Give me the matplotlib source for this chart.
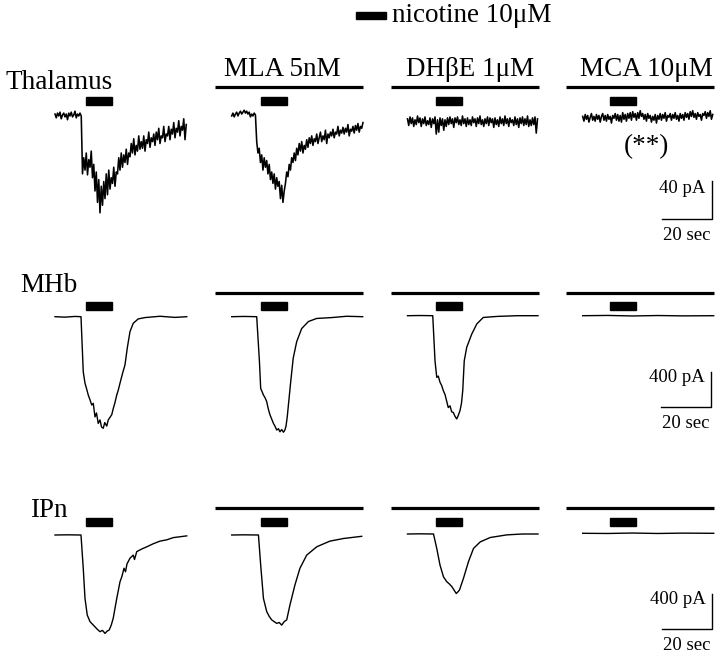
import matplotlib.pyplot as plt
import matplotlib.transforms as mtransforms
from matplotlib.patches import Rectangle
import numpy as np

plt.rcParams['font.family'] = ['Liberation Serif', 'DejaVu Serif']

# --- dados ---
regions = ['Thalamus', 'MHb', 'IPn']
drugs = ['', 'MLA 5nM', 'DHβE 1μM', 'MCA 10μM']
legend_label = 'nicotine 10μM'
note_mca = '(**)'
scale_sec = 20
scale_pA = [40, 400, 400]
nic_start = [12.3, 11.7, 11.3, 10.9]   # s, por coluna
nic_dur = 10.6
drug_span = (-6.6, 52.6)

# Thalamus: correntes (pA) amostradas a cada 0.5 s
dt_thal = 0.5
thal_ctrl = [1, -3, 2, -1, 3, -4, 0, 2, -2, 1,
             -5, 2, -1, 3, -2, 0, 4, -3, 1, -1,
             2, -1, -62, -45, -58, -40, -63, -47, -55, -38,
             -66, -52, -80, -60, -92, -68, -103, -75, -95, -70,
             -88, -62, -84, -58, -78, -66, -72, -55, -75, -60,
             -62, -45, -58, -40, -55, -42, -50, -36, -52, -40,
             -44, -30, -40, -25, -42, -32, -38, -22, -36, -28,
             -35, -22, -38, -26, -30, -18, -34, -24, -28, -20,
             -32, -18, -26, -14, -30, -22, -24, -12, -28, -20,
             -22, -12, -26, -15, -20, -8, -24, -14, -18, -6,
             -22, -12, -16, -4, -26, -10]
thal_mla = [-1, 2, -2, 1, 3, -1, 2, 4, 1, 3,
            5, 2, 4, 1, 3, -2, 1, -1, 2, 0,
            -28, -40, -35, -50, -42, -58, -45, -55, -48, -62,
            -52, -68, -60, -72, -62, -78, -66, -75, -70, -88,
            -74, -92, -80, -72, -60, -65, -52, -58, -45, -50,
            -40, -48, -35, -42, -30, -38, -28, -40, -32, -36,
            -26, -34, -24, -30, -22, -32, -25, -28, -20, -30,
            -24, -18, -28, -22, -26, -16, -30, -20, -24, -18,
            -22, -15, -24, -18, -20, -12, -22, -16, -19, -13,
            -20, -14, -18, -10, -22, -15, -17, -12, -19, -11,
            -16, -9, -18, -12, -14, -8]
thal_dhbe = [3, -4, 5, -2, 4, -5, 2, -3, 6, -1,
             4, -5, 3, -2, 5, -4, 1, -3, 4, -6,
             3, -2, 5, -13, 2, -11, 4, -4, 3, -9,
             2, -5, 4, -3, 5, -2, 3, -6, 4, -1,
             5, -3, 2, -4, 6, -2, 3, -5, 4, -3,
             2, -4, 5, -1, 3, -5, 4, -2, 6, -3,
             2, -5, 3, -2, 5, -4, 4, -1, 3, -6,
             4, -3, 2, -5, 5, -2, 3, -4, 6, -2,
             3, -5, 4, -1, 2, -4, 5, -3, 3, -6,
             4, -2, 5, -4, 3, -3, 6, -5, 2, -4,
             4, -3, 5, -12, 3]
thal_mca = [2, -3, 4, -1, 3, -4, 1, 5, -2, 2,
            -3, 4, -1, 3, -4, 2, 5, -2, 3, -3,
            4, -1, 2, -5, 3, 0, 5, -2, 4, -3,
            3, -4, 6, -1, 4, -3, 5, 0, 6, -2,
            7, 1, 5, -2, 6, 0, 8, 2, 5, -1,
            4, -3, 5, 0, 3, -4, 2, -2, 4, -5,
            3, -1, 5, -2, 4, 0, 6, -3, 3, 1,
            5, -2, 4, 0, 6, -1, 3, -3, 5, 0,
            4, -2, 6, 1, 5, -1, 7, 2, 8, 1,
            5, -1, 6, 2, 4, -2, 5, 3, 7, 0,
            6, 2, 8, -1, 4]

# MHb: pontos (s, pA)
mhb_ctrl_t = [0, 4, 8, 10.4, 11.3, 12.0, 12.6, 13.3, 14.0, 14.7, 15.3, 16.0, 16.6, 17.3,
              18.0, 18.6, 19.3, 19.9, 20.7, 21.3, 22.0, 22.7, 23.3, 24.0, 24.7, 25.3, 26.0,
              27.0, 28.0, 28.9, 30.0, 31.3, 33.3, 36, 42, 48, 52.7]
mhb_ctrl = [0, -5, 3, 0, -630, -760, -820, -895, -950, -1010, -990, -1145, -1100, -1220,
            -1180, -1260, -1275, -1210, -1250, -1180, -1150, -1120, -1050, -980, -895, -840, -760,
            -650, -550, -360, -170, -75, -25, -10, 5, -8, 0]
mhb_mla_t = [0, 5, 10.0, 11.1, 11.6, 12.2, 12.7, 13.4, 14.0, 14.6, 15.3, 16.0, 16.7, 17.3,
             18.0, 18.7, 19.3, 20.0, 20.7, 21.2, 21.7, 22.2, 22.7, 23.6, 24.6, 26.0, 28.0,
             30.7, 34.0, 40, 46, 52.4]
mhb_mla = [0, 3, 0, -515, -820, -860, -895, -930, -970, -1050, -1120, -1170, -1220, -1250,
           -1295, -1280, -1315, -1290, -1320, -1300, -1255, -1150, -1005, -745, -475, -285, -135,
           -55, -20, -10, 5, 0]
mhb_dhbe_t = [0, 5, 10.1, 11.0, 11.7, 12.3, 13.0, 13.7, 14.3, 15.0, 15.7, 16.3, 17.0, 17.7,
              18.3, 19.0, 19.7, 20.3, 21.0, 21.6, 22.1, 22.7, 23.7, 25.7, 27.7, 30.3, 36, 44, 52.2]
mhb_dhbe = [0, 2, 0, -515, -705, -690, -760, -800, -855, -900, -980, -1050, -1030, -1100,
            -1105, -1150, -1180, -1140, -1085, -1000, -855, -515, -360, -210, -95, -20, -8, 0, 0]
mhb_mca_t = [0, 10, 20, 30, 40, 52.4]
mhb_mca = [0, 3, -3, 2, -2, 0]

# IPn: pontos (s, pA)
ipn_ctrl_t = [0, 5, 10.4, 11.3, 12.0, 12.9, 14.0, 15.0, 16.0, 17.0, 18.0, 19.0, 20.0, 20.8,
              21.7, 22.5, 23.3, 24.7, 26.0, 26.8, 27.6, 28.2, 28.8, 30.0, 31.3, 31.8, 32.7,
              34.7, 36.7, 39.3, 42.0, 44.7, 47.3, 50.0, 52.7]
ipn_ctrl = [0, 2, 0, -380, -725, -915, -990, -1020, -1050, -1080, -1105, -1090, -1125, -1100,
            -1085, -1030, -950, -725, -535, -470, -380, -420, -330, -265, -230, -280, -190,
            -160, -135, -100, -70, -55, -30, -20, -10]
ipn_mla_t = [0, 5, 10.7, 11.6, 12.7, 14.0, 15.0, 16.0, 17.0, 18.0, 19.0, 20.0, 21.0, 22.0,
             23.3, 25.3, 27.3, 30.0, 34.0, 36, 39.3, 44.7, 52.0]
ipn_mla = [0, 2, 0, -345, -725, -875, -930, -970, -990, -1010, -1000, -1030, -990, -970,
           -800, -570, -380, -230, -135, -110, -70, -40, -15]
ipn_dhbe_t = [0, 5, 10.4, 11.7, 13.0, 14.4, 15.7, 16.7, 17.7, 18.6, 19.5, 20.2, 20.8, 22.4,
              24.4, 26.4, 29.1, 33.1, 39.7, 46, 52.2]
ipn_dhbe = [0, 2, 0, -165, -355, -490, -545, -570, -600, -640, -680, -660, -640, -505,
            -315, -165, -90, -40, -10, 0, 0]
ipn_mca_t = [0, 10, 20, 30, 40, 52.4]
ipn_mca = [0, -2, 3, -2, 2, 0]

thal_traces = [thal_ctrl, thal_mla, thal_dhbe, thal_mca]
traces = [
    [(np.arange(len(v)) * dt_thal, v) for v in thal_traces],
    [(mhb_ctrl_t, mhb_ctrl), (mhb_mla_t, mhb_mla), (mhb_dhbe_t, mhb_dhbe), (mhb_mca_t, mhb_mca)],
    [(ipn_ctrl_t, ipn_ctrl), (ipn_mla_t, ipn_mla), (ipn_dhbe_t, ipn_dhbe), (ipn_mca_t, ipn_mca)],
]

# --- layout (pixels) ---
W, H = 720, 653
px_per_s = 2.5
pA_per_px = [40 / 38, 400 / 35, 400 / 35]
trace_lw = [1.15, 1.0, 1.0]
col_x0 = [55, 231.7, 407.5, 582.7]
row_base = [[115, 115, 121.7, 118.3], [316.7, 316.7, 315.7, 315.7], [535, 535, 534, 533.3]]
drug_line_y = [87, 292.5, 507.5]
nic_bar_y = [100.5, 306, 521.5]
scale_corner = [(711.5, 218.5), (711, 407), (712, 629)]
label_pos = [(5, 89), (20, 292), (30, 517)]


def fx(x):
    return x / W


def fy(y):
    return 1 - y / H


fig = plt.figure(figsize=(7.2, 6.53), dpi=100)

for r in range(3):
    k = pA_per_px[r]
    for c in range(4):
        x0 = col_x0[c]
        base = row_base[r][c]
        left, right = x0 - 25, x0 + 140
        top, bottom = base - 40, base + 125
        ax = fig.add_axes([fx(left), fy(bottom), (right - left) / W, (bottom - top) / H])
        ax.set_xlim(-25 / px_per_s, 140 / px_per_s)
        ax.set_ylim(-125 * k, 40 * k)
        ax.axis('off')
        ax.patch.set_visible(False)

        t, v = traces[r][c]
        ax.plot(t, v, color='black', lw=trace_lw[r])

        blend = mtransforms.blended_transform_factory(ax.transData, fig.transFigure)
        ax.add_patch(Rectangle((nic_start[c], fy(nic_bar_y[r] + 4)), nic_dur, 8 / H,
                               transform=blend, color='black', clip_on=False))
        if c > 0:
            ax.plot(drug_span, [fy(drug_line_y[r])] * 2, transform=blend,
                    color='black', lw=2.3, clip_on=False, solid_capstyle='butt')

        if c == 3:
            cx, cy = scale_corner[r]
            ts = (cx - x0) / px_per_s
            vs = -(cy - base) * k
            ax.plot([ts - scale_sec, ts, ts], [vs, vs, vs + scale_pA[r]],
                    color='black', lw=1.0, clip_on=False)

    fig.text(fx(label_pos[r][0]), fy(label_pos[r][1]), regions[r],
             fontsize=19.5, va='baseline', ha='left')

    cx, cy = scale_corner[r]
    fig.text(fx(cx - 6), fy(cy - 30), f'{scale_pA[r]} pA', fontsize=13.5,
             ha='right', va='center')
    fig.text(fx(cx - 25), fy(cy + 17), f'{scale_sec} sec', fontsize=13.5,
             ha='center', va='center')

# cabeçalhos das colunas
header_x = [0, 282.5, 470, 646.5]
for c in range(1, 4):
    fig.text(fx(header_x[c]), fy(75.5), drugs[c], fontsize=19.5, ha='center', va='baseline')

fig.text(fx(646), fy(147), note_mca, fontsize=19.5, ha='center', va='center')

# legenda da nicotina
fig.patches.append(Rectangle((fx(356), fy(19)), 30 / W, 7 / H, transform=fig.transFigure,
                             color='black'))
fig.text(fx(392), fy(22), legend_label, fontsize=19.5, ha='left', va='baseline')

fig.savefig('out.png', dpi=100)
